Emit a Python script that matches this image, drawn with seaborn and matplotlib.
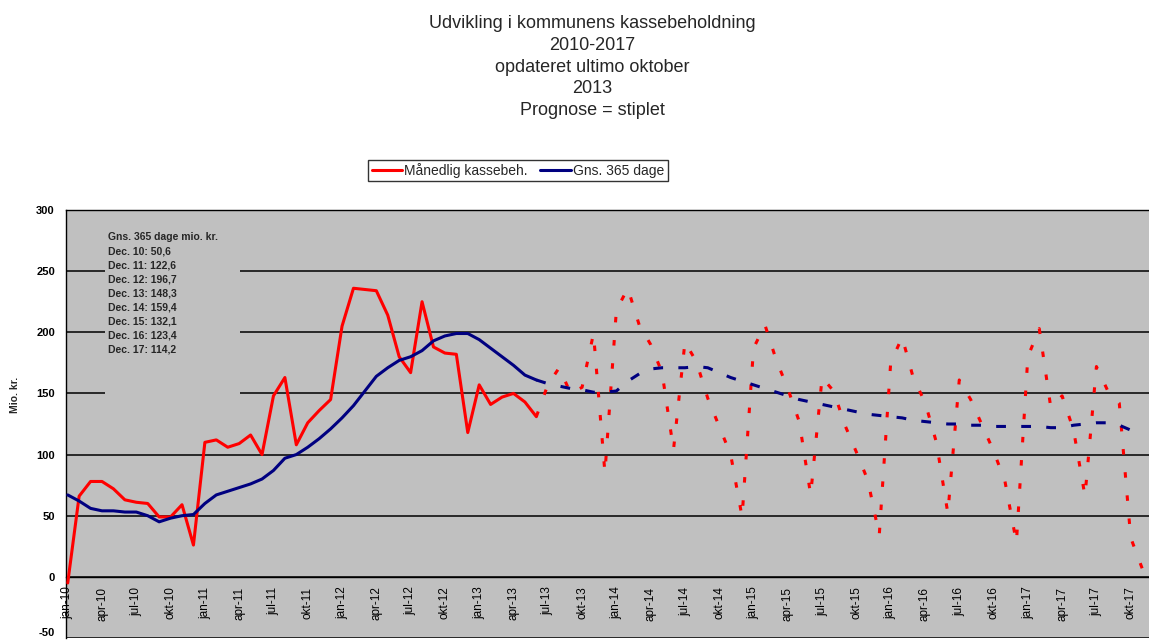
import matplotlib
matplotlib.use("Agg")
import matplotlib.pyplot as plt
from matplotlib.lines import Line2D
from matplotlib.patches import Rectangle
import seaborn as sns

sns.set_style("white")
plt.rcParams['font.family'] = ['Liberation Sans', 'DejaVu Sans']

# ---------------- data ----------------
title_lines = ["Udvikling i kommunens kassebeholdning", "2010-2017",
               "opdateret ultimo oktober", "2013", "Prognose = stiplet"]
series_names = ["Månedlig kassebeh.", "Gns. 365 dage"]

tick_labels = ["jan-10", "apr-10", "jul-10", "okt-10",
               "jan-11", "apr-11", "jul-11", "okt-11",
               "jan-12", "apr-12", "jul-12", "okt-12",
               "jan-13", "apr-13", "jul-13", "okt-13",
               "jan-14", "apr-14", "jul-14", "okt-14",
               "jan-15", "apr-15", "jul-15", "okt-15",
               "jan-16", "apr-16", "jul-16", "okt-16",
               "jan-17", "apr-17", "jul-17", "okt-17"]

# month index: 0 = jan-10
actual_months = list(range(0, 42))
forecast_months = list(range(41, 95))

red_actual = [-5, 66, 78, 78, 72, 63, 61, 60, 49, 49, 59, 26,
              110, 112, 106, 109, 116, 100, 148, 163, 108, 126, 136, 145,
              205, 236, 235, 234, 214, 180, 167, 225, 188, 183, 182, 118,
              157, 141, 147, 150, 143, 131]
red_forecast = [131, 157, 171, 150, 155, 199, 85,
                218, 236, 206, 190, 167, 104, 192, 176, 146, 123, 100, 49,
                187, 206, 177, 154, 127, 67, 163, 152, 124, 102, 79, 34,
                175, 196, 162, 143, 110, 52, 161, 145, 124, 103, 78, 28,
                180, 203, 139, 148, 120, 66, 172, 152, 142, 32, 7]

blue_actual = [67, 62, 56, 54, 54, 53, 53, 50, 45, 48, 50, 51,
               60, 67, 70, 73, 76, 80, 87, 97, 100, 106, 113, 121,
               130, 140, 152, 164, 171, 177, 180, 185, 193, 197, 199, 199,
               194, 187, 180, 173, 165, 161]
blue_forecast = [161, 158, 156, 154, 153, 151, 151,
                 152, 160, 166, 170, 171, 171, 171, 172, 171, 167, 163, 160,
                 157, 154, 151, 148, 145, 143, 141, 139, 137, 135, 133, 132,
                 131, 130, 128, 127, 126, 125, 125, 124, 124, 123, 123, 123,
                 123, 123, 122, 122, 124, 125, 126, 126, 124, 120, 115]

annot_lines = ["Gns. 365 dage mio. kr.",
               "Dec. 10: 50,6",
               "Dec. 11: 122,6",
               "Dec. 12: 196,7",
               "Dec. 13: 148,3",
               "Dec. 14: 159,4",
               "Dec. 15: 132,1",
               "Dec. 16: 123,4",
               "Dec. 17: 114,2"]

y_ticks = [-50, 0, 50, 100, 150, 200, 250, 300]

RED = "#FF0000"
NAVY = "#000080"
GREY = "#C0C0C0"

# ---------------- figure ----------------
W, H = 1149, 640
fig = plt.figure(figsize=(W / 100, H / 100), dpi=100)
fig.patch.set_facecolor("white")
ax = fig.add_axes([66 / W, 2 / H, (W - 66) / W, 428 / H])
ax.set_facecolor(GREY)

LW = 2.2
sns.lineplot(x=actual_months, y=red_actual, color=RED, lw=LW, ax=ax,
             estimator=None, sort=False, zorder=3)
sns.lineplot(x=forecast_months, y=red_forecast, color=RED, lw=LW, ax=ax,
             estimator=None, sort=False, linestyle=(0, (1.8, 5.8)), zorder=3)
sns.lineplot(x=actual_months, y=blue_actual, color=NAVY, lw=LW, ax=ax,
             estimator=None, sort=False, zorder=4)
sns.lineplot(x=forecast_months, y=blue_forecast, color=NAVY, lw=LW, ax=ax,
             estimator=None, sort=False, linestyle=(0, (3.2, 5.0)), zorder=4)

ax.set_xlim(-0.15, 94.6)
ax.set_ylim(-50, 300)

# grid
ax.set_axisbelow(True)
ax.yaxis.grid(True, color="black", lw=1.1)
ax.xaxis.grid(False)

# spines
for s in ["left", "bottom", "top"]:
    ax.spines[s].set_color("black")
    ax.spines[s].set_linewidth(1.0)
ax.spines["right"].set_visible(False)
ax.spines["bottom"].set_position(("data", 0))

# ticks
ax.set_xticks(list(range(0, 3 * len(tick_labels), 3)))
ax.set_xticklabels(tick_labels, rotation=90, fontsize=8.5)
ax.set_yticks(y_ticks)
ax.set_yticklabels([str(v) for v in y_ticks], fontsize=8, fontweight="bold")
ax.get_yticklabels()[0].set_va("bottom")
ax.tick_params(axis="x", direction="out", length=4, width=1, pad=3, colors="black")
ax.tick_params(axis="y", direction="out", length=4, width=1, pad=4, colors="black")
ax.set_xlabel("")
ax.set_ylabel("")

# annotation box (occludes gridlines)
ax.add_patch(Rectangle((0.036, 0.556), 0.125, 0.402, transform=ax.transAxes,
                       facecolor=GREY, edgecolor="none", zorder=1))
ax.text(0.0388, 0.948, "\n".join(annot_lines), transform=ax.transAxes,
        fontsize=7.5, fontweight="bold", va="top", ha="left",
        linespacing=1.5, zorder=5)

# y label
fig.text(15 / W, 1 - 395 / H, "Mio. kr.", rotation=90, fontsize=7.5,
         fontweight="bold", ha="center", va="center")

# title
fig.text(592 / W, 1 - 67 / H, "\n".join(title_lines), ha="center",
         va="center", fontsize=13, linespacing=1.36)

# legend
handles = [Line2D([0], [0], color=RED, lw=LW), Line2D([0], [0], color=NAVY, lw=LW)]
leg = fig.legend(handles, series_names, loc="center",
                 bbox_to_anchor=(518 / W, 1 - 170.5 / H), ncol=2,
                 frameon=True, fancybox=False, edgecolor="black",
                 fontsize=10, handlelength=2.2, handletextpad=0.15,
                 columnspacing=0.9, borderpad=0.25, borderaxespad=0)
leg.get_frame().set_linewidth(1.0)
leg.get_frame().set_facecolor("white")

if ax.get_legend() is not None:
    ax.get_legend().remove()

fig.savefig("out.png", dpi=100, facecolor="white")
